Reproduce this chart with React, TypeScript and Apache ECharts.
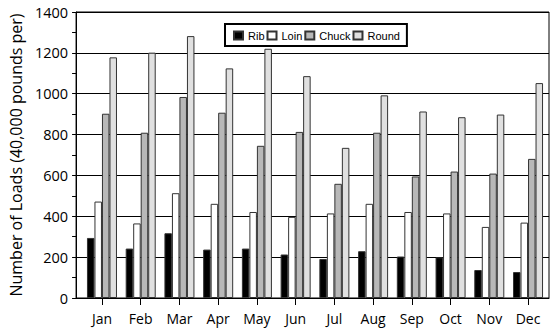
import React, { useEffect, useRef } from "react";
import * as echarts from "echarts";

const months = ["Jan", "Feb", "Mar", "Apr", "May", "Jun", "Jul", "Aug", "Sep", "Oct", "Nov", "Dec"];
const rib = [294, 242, 317, 237, 242, 213, 191, 229, 203, 199, 137, 127];
const loin = [472, 365, 513, 461, 421, 397, 414, 461, 421, 414, 348, 369];
const chuck = [902, 809, 984, 907, 745, 813, 559, 809, 595, 619, 609, 681];
const round = [1178, 1201, 1282, 1124, 1220, 1086, 735, 992, 913, 885, 898, 1052];
const seriesNames = ["Rib", "Loin", "Chuck", "Round"];
const seriesColors = ["#000000", "#ffffff", "#b8b8b8", "#e0e0e0"];
const yTitle = "Number of Loads (40,000 pounds per)";

export default function App() {
  const ref = useRef<HTMLDivElement>(null);
  useEffect(() => {
    if (!ref.current) return;
    const chart = echarts.init(ref.current, undefined, { renderer: "svg" });
    const font = "Open Sans";
    const data = [rib, loin, chuck, round];
    chart.setOption({
      animation: false,
      grid: [
        { left: 74, top: 12, width: 475, height: 286, show: true, borderColor: "#000", borderWidth: 1 },
        { left: 82.6, top: 12, width: 464.8, height: 286 },
      ],
      legend: {
        data: seriesNames,
        left: 225,
        top: 24,
        orient: "horizontal",
        backgroundColor: "#fff",
        borderColor: "#000",
        borderWidth: 2,
        borderRadius: 0,
        padding: [6, 7, 5, 8],
        itemWidth: 9,
        itemHeight: 8,
        itemGap: 2,
        icon: "rect",
        textStyle: { fontFamily: "Liberation Sans", fontSize: 11, color: "#000" },
        z: 10,
      },
      xAxis: [
        {
          gridIndex: 0,
          type: "value",
          min: 0,
          max: 1,
          axisLine: { show: true, lineStyle: { color: "#000", width: 1 } },
          axisTick: { show: false },
          axisLabel: { show: false },
          splitLine: { show: false },
        },
        {
          gridIndex: 1,
          type: "category",
          data: months,
          axisLine: { show: false },
          axisTick: { show: true, alignWithLabel: true, length: 7, lineStyle: { color: "#000" } },
          axisLabel: { fontFamily: font, fontSize: 14, color: "#000", margin: 13 },
        },
      ],
      yAxis: [
        {
          gridIndex: 0,
          type: "value",
          min: 0,
          max: 1400,
          interval: 200,
          name: yTitle,
          nameLocation: "middle",
          nameGap: 47,
          nameTextStyle: { fontFamily: font, fontSize: 16, color: "#000" },
          axisLine: { show: true, lineStyle: { color: "#000", width: 1 } },
          axisTick: { show: true, length: 4, lineStyle: { color: "#000" } },
          minorTick: { show: true, splitNumber: 2, length: 4, lineStyle: { color: "#000" } },
          axisLabel: {
            fontFamily: font,
            fontSize: 14.5,
            color: "#000",
            margin: 8,
            formatter: (v: number) => String(v),
          },
          splitLine: { show: true, lineStyle: { color: "#000", width: 1 } },
        },
        {
          gridIndex: 1,
          type: "value",
          min: 0,
          max: 1400,
          show: false,
          splitLine: { show: false },
        },
      ],
      series: seriesNames.map((name, i) => ({
        name,
        type: "bar",
        xAxisIndex: 1,
        yAxisIndex: 1,
        data: data[i],
        barGap: "0%",
        barCategoryGap: "22.5%",
        itemStyle: { color: seriesColors[i], borderColor: "#333", borderWidth: 1 },
      })),
    });
    return () => chart.dispose();
  }, []);
  return <div ref={ref} style={{ width: 550, height: 334, position: "absolute", left: 0, top: 0 }} />;
}
